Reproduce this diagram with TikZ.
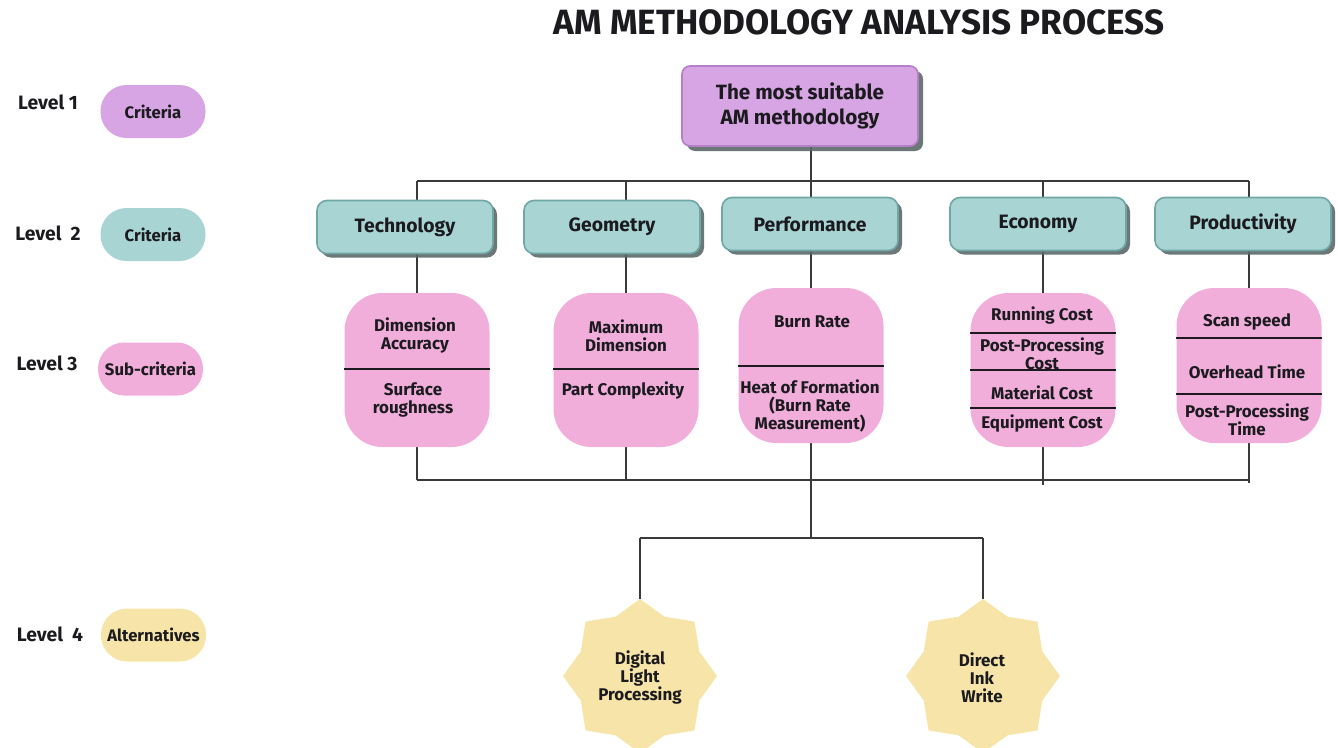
\documentclass[tikz,border=0pt]{standalone}
\usepackage{fontspec}
\setmainfont{Fira Sans}
\usetikzlibrary{shapes.geometric,shadows,backgrounds,calc}

\newlength\pxu
\setlength\pxu{0.75pt}

\definecolor{lilacfill}{HTML}{D7A5E3}
\definecolor{lilacedge}{HTML}{B47FC4}
\definecolor{tealfill}{HTML}{A9D4D4}
\definecolor{tealedge}{HTML}{6FA6A6}
\definecolor{boxshade}{HTML}{5C6868}
\definecolor{pinkfill}{HTML}{F1AEDB}
\definecolor{altfill}{HTML}{F6E4A8}
\definecolor{inkdark}{HTML}{1B1B1F}
\definecolor{linkgray}{HTML}{3A3A3A}

\begin{document}
\begin{tikzpicture}[x=0.75pt,y=-0.75pt,
  every node/.style={text=inkdark},
  heading/.style={font=\fontsize{26.3}{30}\selectfont\bfseries, inner sep=0},
  lvl/.style={font=\fontsize{14.5}{17}\selectfont\bfseries, inner sep=0},
  pill/.style={rounded corners=26\pxu, minimum width=105\pxu, minimum height=53\pxu,
    inner sep=0, font=\fontsize{12.5}{14}\selectfont\bfseries},
  goalbox/.style={draw=lilacedge, line width=1.2pt, fill=lilacfill, rounded corners=8\pxu,
    minimum width=236\pxu, minimum height=80\pxu, align=center, inner sep=0,
    font=\fontsize{15.5}{18.75}\selectfont\bfseries,
    drop shadow={shadow xshift=5\pxu, shadow yshift=-5\pxu, fill=boxshade, opacity=0.9}},
  critbox/.style={draw=tealedge, line width=1.2pt, fill=tealfill, rounded corners=10\pxu,
    minimum width=176\pxu, minimum height=53\pxu, inner sep=0,
    font=\fontsize{14.5}{16}\selectfont\bfseries,
    drop shadow={shadow xshift=4\pxu, shadow yshift=-4\pxu, fill=boxshade, opacity=0.9}},
  subbox/.style={fill=pinkfill, rounded corners=38\pxu, minimum width=145\pxu,
    minimum height=154\pxu, inner sep=0},
  subtxt/.style={font=\fontsize{12.7}{13.5}\selectfont\bfseries, align=center, inner sep=0},
  altstar/.style={star, star points=8, star point ratio=1.2, fill=altfill,
    minimum size=154\pxu, inner sep=0},
  divider/.style={draw=inkdark, line width=0.9pt},
  link/.style={draw=linkgray, line width=1.1pt}
]
\useasboundingbox (0,0) rectangle (1338,747);
\clip (0,0) rectangle (1338,747);

% title
\node[heading] (title) at (859,22) {AM METHODOLOGY ANALYSIS PROCESS};

% legend of levels
\node[lvl] (lv1) at (48,102) {Level 1};
\node[lvl] (lv2) at (48,233) {Level\ \ 2};
\node[lvl] (lv3) at (47,363) {Level 3};
\node[lvl] (lv4) at (50,634) {Level\ \ 4};
\node[pill, fill=lilacfill] (lg1) at (153,111.5) {Criteria};
\node[pill, fill=tealfill] (lg2) at (153,234.5) {Criteria};
\node[pill, fill=pinkfill] (lg3) at (150.5,369) {Sub-criteria};
\node[pill, fill=altfill] (lg4) at (153.5,635) {Alternatives};

% level 1 goal
\node[goalbox] (goal) at (800,106) {The most suitable\\AM methodology};

% level 3 sub-criteria boxes
\node[subbox] (tsub) at (417,370) {};
\node[subbox] (gsub) at (626,370) {};
\node[subbox, minimum height=155\pxu] (fsub) at (811,365.5) {};
\node[subbox] (esub) at (1043,370) {};
\node[subbox, minimum height=155\pxu] (psub) at (1249,365.5) {};

% level 2 criteria
\node[critbox] (tech) at (405,227) {Technology};
\node[critbox] (geom) at (612,227) {Geometry};
\node[critbox] (perf) at (810,224) {Performance};
\node[critbox] (econ) at (1038,224) {Economy};
\node[critbox] (prod) at (1243,224) {Productivity};

% level 4 alternatives
\node[altstar] (dlp) at (640,676) {};
\node[altstar] (diw) at (983,676) {};

% bus lines
\coordinate (busTop) at (811,181);
\coordinate (busBot) at (811,480);
\coordinate (busAlt) at (811,538);

\begin{pgfonlayer}{background}
  \draw[link] (goal.south -| fsub) -- (fsub |- busTop);
  \draw[link] (tsub |- busTop) -- (psub |- busTop);
  \foreach \s in {tsub,gsub,fsub,esub,psub}
    \draw[link] (\s |- busTop) -- (\s.north);
  \foreach \s in {tsub,gsub,fsub,esub,psub}
    \draw[link] (\s.south) -- (\s |- busBot);
  \draw[link] (tsub |- busBot) -- (psub |- busBot);
  \draw[link] (esub |- busBot) -- ($(esub |- busBot)+(0,5)$);
  \draw[link] (psub |- busBot) -- ($(psub |- busBot)+(0,3)$);
  \draw[link] (fsub |- busBot) -- (busAlt);
  \draw[link] (dlp |- busAlt) -- (diw |- busAlt);
  \draw[link] (dlp |- busAlt) -- (dlp.north);
  \draw[link] (diw |- busAlt) -- (diw.north);
\end{pgfonlayer}

% dividers inside the sub-criteria boxes
\draw[divider] (tsub.west |- 0,369) -- (tsub.east |- 0,369);
\draw[divider] (gsub.west |- 0,369) -- (gsub.east |- 0,369);
\draw[divider] (fsub.west |- 0,366) -- (fsub.east |- 0,366);
\draw[divider] (esub.west |- 0,333) -- (esub.east |- 0,333);
\draw[divider] (esub.west |- 0,370) -- (esub.east |- 0,370);
\draw[divider] (esub.west |- 0,408) -- (esub.east |- 0,408);
\draw[divider] (psub.west |- 0,338) -- (psub.east |- 0,338);
\draw[divider] (psub.west |- 0,394) -- (psub.east |- 0,394);

% sub-criteria texts
\node[subtxt] (t1) at (415,336) {Dimension\\Accuracy};
\node[subtxt] (t2) at (413,400) {Surface\\roughness};
\node[subtxt] (g1) at (626,336) {Maximum\\Dimension};
\node[subtxt] (g2) at (623,391) {Part Complexity};
\node[subtxt] (f1) at (812,322) {Burn Rate};
\node[subtxt] (f2) at (810,406) {Heat of Formation\\(Burn Rate\\Measurement)};
\node[subtxt] (e1) at (1042,316) {Running Cost};
\node[subtxt] (e2) at (1042,353.5) {Post-Processing\\Cost};
\node[subtxt] (e3) at (1042,393) {Material Cost};
\node[subtxt] (e4) at (1042,424) {Equipment Cost};
\node[subtxt] (p1) at (1247,322) {Scan speed};
\node[subtxt] (p2) at (1247,372) {Overhead Time};
\node[subtxt] (p3) at (1247,420) {Post-Processing\\Time};

% alternative texts
\node[subtxt] (a1) at (640,677) {Digital\\Light\\Processing};
\node[subtxt] (a2) at (982,678) {Direct\\Ink\\Write};
\end{tikzpicture}
\end{document}
